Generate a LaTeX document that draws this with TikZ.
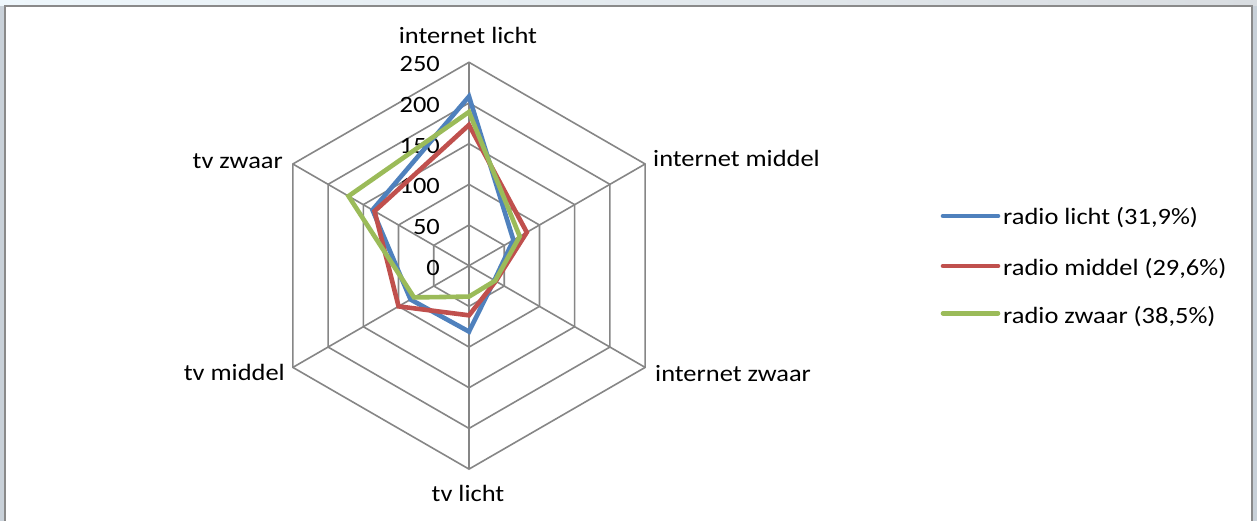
\documentclass[tikz,border=0pt]{standalone}
\usepackage{fontspec}
\setmainfont{Carlito}[FakeStretch=1.13]
\definecolor{serA}{HTML}{4F81BD}
\definecolor{serB}{HTML}{C0504D}
\definecolor{serC}{HTML}{9BBB59}
\definecolor{gridc}{HTML}{868686}
\definecolor{framec}{HTML}{8A8A8A}
\definecolor{chromeL}{HTML}{EEF7FC}
\definecolor{chromeR}{HTML}{D9DDE1}
\definecolor{sidec}{HTML}{C9D1D9}
\begin{document}
\begin{tikzpicture}[x=1pt,y=1pt,
  lbl/.style={font=\fontsize{23.4}{27}\selectfont, inner sep=0pt},
  gridline/.style={draw=gridc, line width=1.6pt},
  series/.style={line width=4.6pt, line join=miter},
  legline/.style={line width=4.6pt, line cap=round}]
\useasboundingbox (0,0) rectangle (1257,521);
% window chrome
\shade[left color=chromeL, right color=chromeR] (0,515) rectangle (1257,521);
\fill[sidec] (0,0) rectangle (5,515);
\fill[sidec] (1252,0) rectangle (1257,515);
\fill[white] (5,0) rectangle (1252,515);
\draw[framec, line width=2pt] (5,0) -- (5,515) -- (1252,515) -- (1252,0);
% radar chart
\def\f{0.8136}
\begin{scope}[shift={(469,255.3)}]
  \coordinate (C) at (0,0);
  \foreach \k in {1,...,5}{
    \draw[gridline] (90:\k*40.68) -- (30:\k*40.68) -- (-30:\k*40.68) -- (-90:\k*40.68) -- (-150:\k*40.68) -- (150:\k*40.68) -- cycle;
  }
  \foreach \a in {90,30,-30,-90,-150,150}{
    \draw[gridline] (C) -- (\a:203.4);
  }
  \foreach \v [count=\k from 0] in {0,50,100,150,200,250}{
    \node[lbl, anchor=base east] (v\k) at (-29,{\k*40.68-9.4}) {\v};
  }
  % series
  \draw[series, serA] (90:{208*\f}) -- (30:{63*\f}) -- (-30:{36*\f}) -- (-90:{81*\f}) -- (-150:{83*\f}) -- (150:{137*\f}) -- cycle;
  \draw[series, serB] (90:{173*\f}) -- (30:{82*\f}) -- (-30:{38*\f}) -- (-90:{61*\f}) -- (-150:{100*\f}) -- (150:{134*\f}) -- cycle;
  \draw[series, serC] (90:{189*\f}) -- (30:{72*\f}) -- (-30:{37*\f}) -- (-90:{38*\f}) -- (-150:{78*\f}) -- (150:{171*\f}) -- cycle;
\end{scope}
% category labels
\node[lbl, anchor=base] (il) at (468,{521-44}) {internet licht};
\node[lbl, anchor=base west] (im) at (653,{521-167}) {internet middel};
\node[lbl, anchor=base west] (iz) at (655,{521-382}) {internet zwaar};
\node[lbl, anchor=base] (tl) at (468,{521-502}) {tv licht};
\node[lbl, anchor=base east] (tm) at (285,{521-381}) {tv middel};
\node[lbl, anchor=base east] (tz) at (283,{521-169}) {tv zwaar};
% legend
\coordinate (la1) at (943,{521-216});
\coordinate (lb1) at (998,{521-216});
\coordinate (la2) at (943,{521-266});
\coordinate (lb2) at (998,{521-266});
\coordinate (la3) at (943,{521-313.3});
\coordinate (lb3) at (998,{521-313.3});
\draw[legline, serA] (la1) -- (lb1);
\draw[legline, serB] (la2) -- (lb2);
\draw[legline, serC] (la3) -- (lb3);
\node[lbl, anchor=base west] (t1) at (1003,{521-225}) {radio licht (31,9\%)};
\node[lbl, anchor=base west] (t2) at (1003,{521-276}) {radio middel (29,6\%)};
\node[lbl, anchor=base west] (t3) at (1003,{521-323.3}) {radio zwaar (38,5\%)};
\end{tikzpicture}
\end{document}
